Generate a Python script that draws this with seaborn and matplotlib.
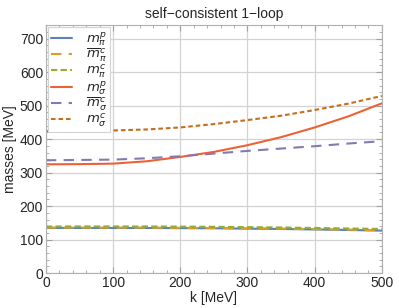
import matplotlib
matplotlib.use("Agg")
import matplotlib.pyplot as plt
from matplotlib.ticker import MultipleLocator
import seaborn as sns

# momentum grid [MeV]
k = [0, 50, 100, 150, 200, 250, 300, 350, 400, 450, 500]

# masses [MeV]
m_pi_p = [135, 135, 135, 135, 134.5, 134, 133, 132, 130.5, 129, 127]
m_pi_bar_c = [136, 136, 136, 136, 135.5, 135, 134, 133, 131.5, 130, 128]
m_pi_c = [139.5, 139.5, 139.5, 139.5, 139, 138.5, 137.5, 136.5, 135, 133.5, 132]
m_sig_p = [325, 325.5, 327, 334, 347, 362, 382, 406, 435, 468, 507]
m_sig_bar_c = [337, 338, 339, 343, 349, 357, 365, 372, 379, 387, 394]
m_sig_c = [424, 424.5, 426, 429, 435, 445, 457, 470, 487, 506, 529]

labels = [r"$m_\pi^p$", r"$\overline{m}_\pi^c$", r"$m_\pi^c$",
          r"$m_\sigma^p$", r"$\overline{m}_\sigma^c$", r"$m_\sigma^c$"]
colors = ["#5E81B5", "#E19C24", "#8FB032", "#EB6235", "#8778B3", "#C56E1A"]
dashes = [None, (5, 3.5), (3, 1.6), None, (5, 3.5), (2.2, 1.4)]

sns.set_style("whitegrid")
plt.rcParams["font.family"] = ["Liberation Sans", "DejaVu Sans"]

fig, ax = plt.subplots(figsize=(3.99, 3.08), dpi=100)
fig.subplots_adjust(left=0.115, right=0.957, top=0.918, bottom=0.113)

series = [m_pi_p, m_pi_bar_c, m_pi_c, m_sig_p, m_sig_bar_c, m_sig_c]
for vals, lab, col, ds in zip(series, labels, colors, dashes):
    sns.lineplot(x=k, y=vals, ax=ax, color=col, label=lab, lw=1.5)
    if ds is not None:
        ax.lines[-1].set_dashes(ds)

ax.set_xlim(0, 500)
ax.set_ylim(0, 740)
ax.xaxis.set_major_locator(MultipleLocator(100))
ax.yaxis.set_major_locator(MultipleLocator(100))
ax.xaxis.set_minor_locator(MultipleLocator(20))
ax.yaxis.set_minor_locator(MultipleLocator(20))
ax.grid(True, which="major", color="#d3d3d3", lw=0.9)
ax.tick_params(which="both", direction="in", bottom=True, left=True,
               top=True, right=True, color="#a0a0a0", labelsize=10, pad=2)
ax.tick_params(which="major", length=4, width=0.8)
ax.tick_params(which="minor", length=2, width=0.6)
for sp in ax.spines.values():
    sp.set_color("#b0b0b0")
    sp.set_linewidth(0.8)

ax.set_title("self\u2212consistent 1\u2212loop", fontsize=10, pad=5)
ax.set_xlabel("k [MeV]", fontsize=10, labelpad=1)
ax.set_ylabel("masses [MeV]", fontsize=10, labelpad=2)

leg = ax.legend(loc="upper left", fontsize=9.5, handlelength=1.6,
                handletextpad=1.1, handleheight=0.5, frameon=True,
                fancybox=False, borderaxespad=0.15, borderpad=0.2,
                labelspacing=-0.1, framealpha=1)
leg.get_frame().set_edgecolor("#d3d3d3")
leg.get_frame().set_linewidth(0.8)

fig.savefig("out.png", dpi=100)
